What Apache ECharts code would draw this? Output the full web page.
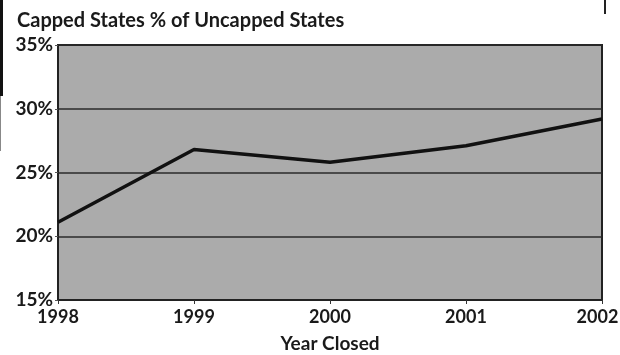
<!DOCTYPE html>
<html>
<head>
<meta charset="utf-8">
<script src="https://cdn.jsdelivr.net/npm/echarts@6/dist/echarts.min.js"></script>
<style>
  html, body { margin: 0; padding: 0; background: #fff; }
  #chart { width: 620px; height: 355px; }
</style>
</head>
<body>
<div id="chart"></div>
<script>
const years = ['1998', '1999', '2000', '2001', '2002'];
const cappedPct = [21.1, 26.8, 25.8, 27.1, 29.2];

const chart = echarts.init(document.getElementById('chart'));
const font = 'Lato, "Open Sans", sans-serif';
const tickText = { fontFamily: font, fontSize: 18, fontWeight: 'bold', color: '#1a1a1a' };

chart.setOption({
  animation: false,
  title: {
    text: 'Capped States % of Uncapped States',
    left: 12,
    top: 6,
    textStyle: { fontFamily: font, fontSize: 20, fontWeight: 'bold', color: '#1a1a1a' }
  },
  // scan border marks at left / top right edge
  graphic: [
    { type: 'rect', shape: { x: 0, y: 0, width: 3, height: 96 }, style: { fill: '#111' } },
    { type: 'rect', shape: { x: 0, y: 96, width: 1, height: 55 }, style: { fill: '#888' } },
    { type: 'rect', shape: { x: 604, y: 0, width: 2, height: 14 }, style: { fill: '#222' } }
  ],
  grid: {
    left: 58, right: 18, top: 45, bottom: 55,
    outerBoundsMode: 'none',
    show: true, backgroundColor: '#ababab', borderColor: '#222', borderWidth: 2
  },
  xAxis: {
    type: 'category',
    data: years,
    boundaryGap: false,
    name: 'Year Closed',
    nameLocation: 'middle',
    nameGap: 34,
    nameTextStyle: { fontFamily: font, fontSize: 19, fontWeight: 'bold', color: '#1a1a1a' },
    axisLine: { lineStyle: { color: '#222', width: 2 } },
    axisTick: { show: true, inside: false, length: 4, lineStyle: { color: '#333' } },
    axisLabel: Object.assign({
      margin: 8,
      formatter: (v, i) => i === years.length - 1 ? '{last|' + v + '}' : v,
      rich: { last: Object.assign({ padding: [0, 9, 0, 0] }, tickText) }
    }, tickText)
  },
  yAxis: {
    type: 'value',
    min: 15,
    max: 35,
    interval: 5,
    axisLine: { show: true, lineStyle: { color: '#222', width: 2 } },
    axisTick: { show: true, length: 3, lineStyle: { color: '#555' } },
    axisLabel: { fontFamily: font, fontSize: 19, fontWeight: 'bold', color: '#1a1a1a', margin: 5, formatter: '{value}%' },
    splitLine: { lineStyle: { color: '#2a2a2a', width: 1.5 } }
  },
  series: [{
    type: 'line',
    data: cappedPct,
    showSymbol: false,
    lineStyle: { color: '#111', width: 3.5 }
  }]
});
</script>
</body>
</html>
